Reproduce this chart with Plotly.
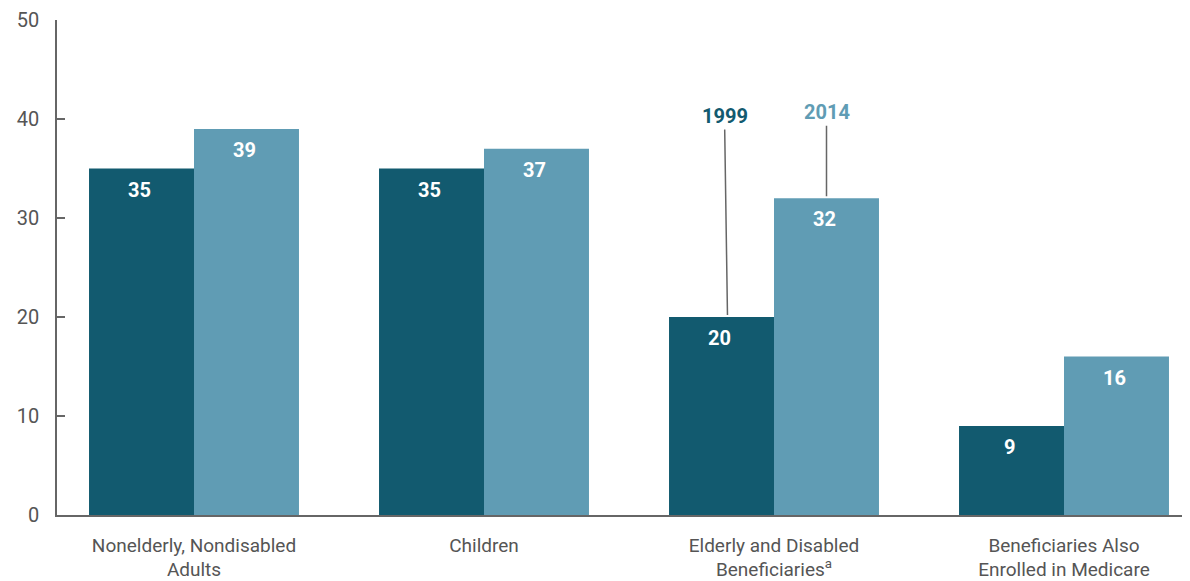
import plotly.graph_objects as go

categories = ["Nonelderly, Nondisabled<br>Adults", "Children",
              "Elderly and Disabled<br>Beneficiaries<sup>a</sup>",
              "Beneficiaries Also<br>Enrolled in Medicare"]
years = ["1999", "2014"]
values_1999 = [35, 35, 20, 9]
values_2014 = [39, 37, 32, 16]
y_ticks = [0, 10, 20, 30, 40, 50]

DARK = "#125a6f"
LIGHT = "#609cb4"
GRAY = "#666666"
FONT = "Roboto"

xpos = list(range(len(categories)))

fig = go.Figure()
for name, vals, col, shift in [(years[0], values_1999, DARK, -55),
                               (years[1], values_2014, LIGHT, 50)]:
    fig.add_trace(go.Bar(
        x=xpos, y=vals, name=name, marker=dict(color=col, line=dict(width=0)),
        hoverinfo="skip",
    ))
    for xi, v in zip(xpos, vals):
        fig.add_annotation(x=xi, y=v, xshift=shift, yshift=-21, text=f"<b>{v}</b>",
                           showarrow=False, yanchor="middle",
                           font=dict(family=FONT, size=20, color="white"))

# leader-line labels for the series
fig.add_annotation(x=2, y=values_1999[2], xshift=-46.5, text="<b>1999</b>",
                   font=dict(family=FONT, size=20, color=DARK),
                   showarrow=True, arrowhead=0, arrowwidth=1.5, arrowcolor=GRAY,
                   ax=-3, ay=-201, standoff=2)
fig.add_annotation(x=2, y=values_2014[2], xshift=52.5, text="<b>2014</b>",
                   font=dict(family=FONT, size=20, color=LIGHT),
                   showarrow=True, arrowhead=0, arrowwidth=1.5, arrowcolor=GRAY,
                   ax=0, ay=-86, standoff=2)

fig.update_layout(
    width=1182, height=573,
    margin=dict(l=49, r=0, t=12, b=66),
    paper_bgcolor="white", plot_bgcolor="white",
    barmode="group", bargap=0.276, bargroupgap=0,
    showlegend=False,
    font=dict(family=FONT, color="#555555"),
    xaxis=dict(range=[-0.4724, 3.4345], tickvals=xpos, ticktext=categories,
               automargin=False,
               showgrid=False, zeroline=False, showline=True, linecolor=GRAY,
               linewidth=1.5, ticks="", ticklabelstandoff=12,
               tickfont=dict(family=FONT, size=19, color="#555555")),
    yaxis=dict(range=[0, 50], tickvals=y_ticks, showgrid=False, zeroline=False,
               automargin=False,
               showline=True, linecolor=GRAY, linewidth=1.5,
               ticks="inside", ticklen=8, tickcolor=GRAY, tickwidth=1.5,
               ticklabelstandoff=12,
               tickfont=dict(family=FONT, size=20, color="#555555")),
)

fig.write_html("out.html")
